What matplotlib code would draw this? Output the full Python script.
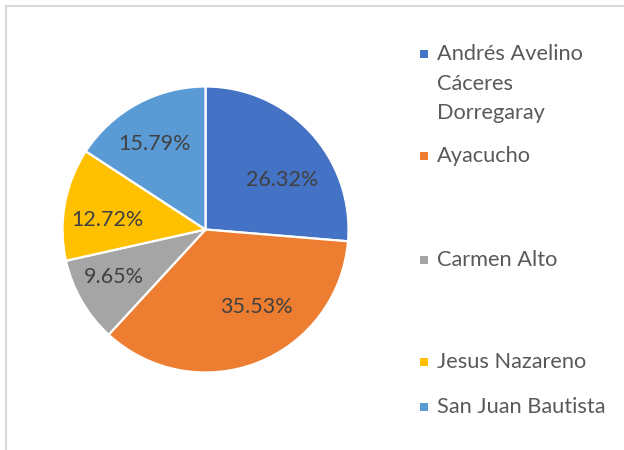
import numpy as np
import matplotlib.pyplot as plt
from matplotlib.patches import Rectangle

plt.rcParams['font.family'] = ['Lato', 'DejaVu Sans']

# данные диаграммы
districts = ['Andrés Avelino\nCáceres\nDorregaray', 'Ayacucho', 'Carmen Alto',
             'Jesus Nazareno', 'San Juan Bautista']
shares = [26.32, 35.53, 9.65, 12.72, 15.79]
colors = ['#4472C4', '#ED7D31', '#A5A5A5', '#FFC000', '#5B9BD5']

# позиции подписей внутри секторов (угол в градусах, доля радиуса)
label_polar = [(32.7, 0.64), (-56.7, 0.65), (-152.7, 0.72), (174.5, 0.69), (120.8, 0.70)]
# вертикальные позиции пунктов легенды (в пикселях сверху)
legend_y = [54, 156, 260, 362, 407]
line_step = 29.5

W, H = 624, 450
fig = plt.figure(figsize=(W / 100, H / 100), dpi=100)

# рамка области диаграммы
fig.patches.append(Rectangle((6 / W, -0.1), 1.2, (H - 6) / H + 0.1,
                             transform=fig.transFigure, fill=False,
                             edgecolor='#D9D9D9', linewidth=1.5))

cx, cy, r = 205.5, 229.5, 143
ax = fig.add_axes([(cx - r) / W, (H - cy - r) / H, 2 * r / W, 2 * r / H])

wedges, _ = ax.pie(shares, colors=colors, startangle=90, counterclock=False,
                   wedgeprops=dict(edgecolor='white', linewidth=1.6))
ax.set_xlim(-1, 1)
ax.set_ylim(-1, 1)
ax.set_aspect('equal')
ax.axis('off')

for value, (ang, dist) in zip(shares, label_polar):
    a = np.deg2rad(ang)
    ax.text(dist * np.cos(a), dist * np.sin(a), f'{value:.2f}%',
            ha='center', va='center', fontsize=15.5, color='#404040')

# легенда
for name, color, y in zip(districts, colors, legend_y):
    fig.patches.append(Rectangle((420 / W, (H - y - 4) / H), 8 / W, 8 / H,
                                 transform=fig.transFigure, facecolor=color,
                                 edgecolor='none'))
    for i, line in enumerate(name.split('\n')):
        fig.text(437 / W, (H - y - i * line_step) / H, line, ha='left', va='center',
                 fontsize=15.7, color='#595959')

plt.savefig('out.png', dpi=100)
